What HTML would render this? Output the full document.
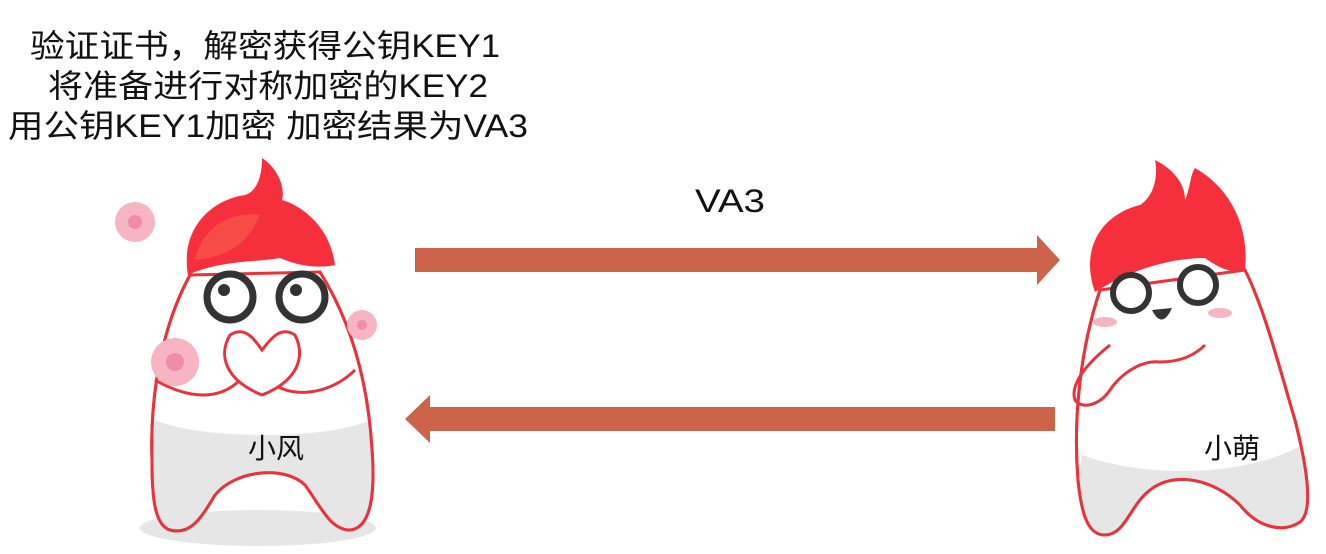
<!DOCTYPE html>
<html><head><meta charset="utf-8"><style>
html,body{margin:0;padding:0;background:#fff;}
svg{display:block;}
text{font-family:"Liberation Sans","Noto Sans CJK SC",sans-serif;fill:#111;}
</style></head><body>
<svg width="1326" height="554" viewBox="0 0 1326 554" xmlns="http://www.w3.org/2000/svg">
<rect width="1326" height="554" fill="#fff"/>
<g font-size="32">
<text x="30" y="57" textLength="470" lengthAdjust="spacingAndGlyphs">验证证书，解密获得公钥KEY1</text>
<text x="48" y="97" textLength="440" lengthAdjust="spacingAndGlyphs">将准备进行对称加密的KEY2</text>
<text x="8" y="137" textLength="520" lengthAdjust="spacingAndGlyphs">用公钥KEY1加密 加密结果为VA3</text>
</g>
<text x="695" y="212" font-size="32" textLength="70" lengthAdjust="spacingAndGlyphs">VA3</text>
<polygon points="415,248 1037,248 1037,235 1060,260 1037,285 1037,272 415,272" fill="#cd644a"/>
<polygon points="1055,407 430,407 430,395 405,419 430,443 430,431 1055,431" fill="#cd644a"/>

<!-- left character -->
<ellipse cx="258" cy="528" rx="118" ry="18" fill="#e6e6e6"/>
<path d="M190,275 C160,330 150,400 152,460 C152,500 155,525 170,530 C190,535 200,520 215,495 C235,470 285,465 305,485 C320,505 330,530 350,530 C372,528 375,490 372,450 C368,380 350,320 320,272 Z" fill="#fff" stroke="#e8323c" stroke-width="3"/>
<path d="M155,420 C200,440 330,440 370,420 L372,450 C375,490 372,528 350,530 C330,530 320,505 305,485 C285,465 235,470 215,495 C200,520 190,535 170,530 C155,525 152,500 152,460 Z" fill="#e6e6e6" stroke="none"/>
<path d="M190,275 C160,330 150,400 152,460 C152,500 155,525 170,530 C190,535 200,520 215,495 C235,470 285,465 305,485 C320,505 330,530 350,530 C372,528 375,490 372,450 C368,380 350,320 320,272" fill="none" stroke="#e8323c" stroke-width="3"/>
<path d="M188,275 C180,230 210,200 245,195 C260,190 262,170 262,158 C280,170 285,190 282,200 C300,205 330,225 335,265 C310,270 290,262 280,258 C260,262 220,260 188,275 Z" fill="#f5303c"/>
<path d="M195,260 C200,230 230,210 260,215 C250,235 240,255 195,260Z" fill="#f55a4a" opacity="0.7"/>
<circle cx="230" cy="297" r="23" fill="#fff" stroke="#333" stroke-width="7"/>
<circle cx="302" cy="297" r="23" fill="#fff" stroke="#333" stroke-width="7"/>
<circle cx="224" cy="290" r="6" fill="#333"/><circle cx="296" cy="290" r="6" fill="#333"/>
<path d="M155,380 C190,400 220,400 240,380 M268,380 C290,400 330,395 355,370" fill="none" stroke="#e8323c" stroke-width="3"/>
<path d="M230,335 C218,355 225,380 262,395 C300,380 305,355 295,335 C280,325 270,340 262,350 C255,340 245,325 230,335Z" fill="#fff" stroke="#e8323c" stroke-width="3"/>
<g fill="#f7b5c4"><circle cx="135" cy="222" r="20"/><circle cx="175" cy="362" r="24"/><circle cx="362" cy="325" r="15"/></g>
<g fill="#f08ca4"><circle cx="135" cy="222" r="7"/><circle cx="175" cy="362" r="9"/><circle cx="362" cy="325" r="5"/></g>
<text x="248" y="458" font-size="28">小风</text>

<!-- right character -->
<path d="M1100,290 C1080,350 1073,420 1078,480 C1082,520 1090,535 1105,535 C1125,535 1130,505 1150,490 C1175,470 1215,480 1240,505 C1260,530 1285,532 1300,522 C1315,510 1305,460 1295,420 C1280,370 1265,310 1245,270 Z" fill="#fff" stroke="#e8323c" stroke-width="3"/>
<path d="M1082,455 C1150,480 1250,475 1302,445 C1310,480 1312,512 1300,522 C1285,532 1260,530 1240,505 C1215,480 1175,470 1150,490 C1130,505 1125,535 1105,535 C1090,535 1082,520 1078,480 Z" fill="#e6e6e6" stroke="none"/>
<path d="M1100,290 C1080,350 1073,420 1078,480 C1082,520 1090,535 1105,535 C1125,535 1130,505 1150,490 C1175,470 1215,480 1240,505 C1260,530 1285,532 1300,522 C1315,510 1305,460 1295,420 C1280,370 1265,310 1245,270" fill="none" stroke="#e8323c" stroke-width="3"/>
<path d="M1095,292 C1080,250 1100,215 1140,205 C1155,195 1158,175 1155,160 C1175,170 1185,185 1185,200 C1190,190 1190,175 1195,168 C1225,185 1250,220 1245,270 C1230,275 1215,265 1205,258 C1170,258 1130,270 1095,292Z" fill="#f5303c"/>
<circle cx="1131" cy="293" r="18" fill="#fff" stroke="#333" stroke-width="6"/>
<circle cx="1198" cy="285" r="18" fill="#fff" stroke="#333" stroke-width="6"/>
<path d="M1152,310 Q1162,330 1172,308 Z" fill="#333"/>
<ellipse cx="1105" cy="322" rx="12" ry="5" fill="#f7b5c4"/><ellipse cx="1220" cy="313" rx="12" ry="5" fill="#f7b5c4"/>
<path d="M1110,345 C1085,365 1070,385 1075,400 C1082,410 1100,405 1110,390 C1120,375 1140,360 1160,362 C1180,362 1195,355 1205,345" fill="none" stroke="#e8323c" stroke-width="3"/>
<text x="1204" y="458" font-size="28">小萌</text>
</svg>
</body></html>
